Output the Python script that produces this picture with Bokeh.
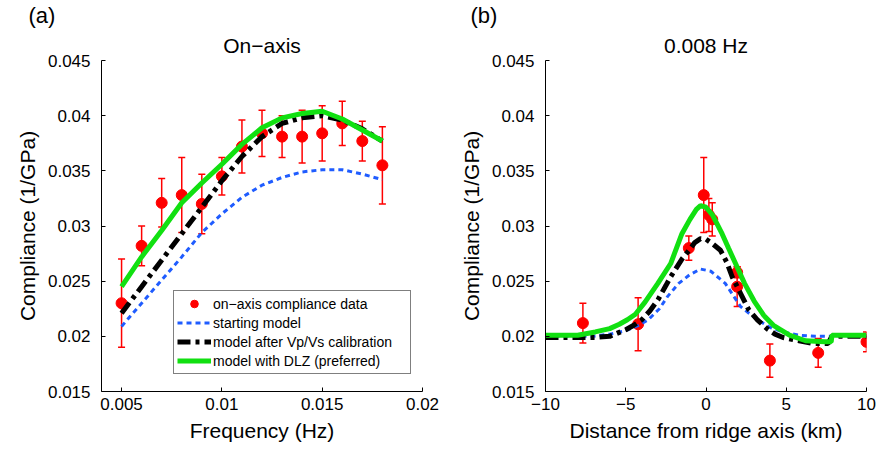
from bokeh.plotting import figure
from bokeh.models import Range1d, FixedTicker, Legend, LegendItem, Title
from bokeh.layouts import row
from bokeh.embed import file_html
from bokeh.resources import INLINE

FONT = "Liberation Sans"
RED = "#ff0000"
BLUE = "#1f5cff"
BLACK = "#000000"
GREEN = "#11e011"

# ---------------- panel (a): on-axis compliance vs frequency ----------------
freq = [0.005, 0.006, 0.007, 0.008, 0.009, 0.010, 0.011, 0.012, 0.013, 0.014, 0.015, 0.016, 0.017, 0.018]
comp_a = [0.0230, 0.0282, 0.0321, 0.0328, 0.0320, 0.0345, 0.0372, 0.0384, 0.0381, 0.0381, 0.0384, 0.0393, 0.0377, 0.0355]
err_a = [0.0040, 0.0018, 0.0022, 0.0034, 0.0027, 0.0017, 0.0024, 0.0021, 0.0019, 0.0024, 0.0025, 0.0020, 0.0018, 0.0035]
start_a = [0.0209, 0.0230, 0.0251, 0.0272, 0.0294, 0.0311, 0.0326, 0.0337, 0.0344, 0.0349, 0.0351, 0.0351, 0.0347, 0.0342]
vpvs_a = [0.0221, 0.0245, 0.0269, 0.0293, 0.0317, 0.0341, 0.0363, 0.0381, 0.0393, 0.0398, 0.0400, 0.0396, 0.0388, 0.0377]
dlz_a = [0.0245, 0.0272, 0.0296, 0.0321, 0.0339, 0.0356, 0.0374, 0.0389, 0.0398, 0.0402, 0.0404, 0.0397, 0.0387, 0.0377]

# ---------------- panel (b): compliance vs distance at 0.008 Hz ----------------
dist = [-7.67, -4.23, -1.07, -0.14, 0.18, 0.39, 1.94, 1.94, 3.98, 6.99, 10.0]
comp_b = [0.0212, 0.0211, 0.0280, 0.0328, 0.0310, 0.0306, 0.0258, 0.0245, 0.0178, 0.0185, 0.0195]
err_b = [0.0018, 0.0024, 0.0011, 0.0034, 0.0015, 0.0015, 0.0005, 0.0018, 0.0015, 0.0013, 0.0009]

start_b_x = [-10, -7, -6, -5, -4.2, -3.6, -2.9, -2.4, -1.7, -1.0, -0.34, 0.3, 1.2, 2.15, 3.2, 4.0, 4.8, 5.8, 6.8, 10]
start_b = [0.0200, 0.0200, 0.0202, 0.0205, 0.0210, 0.0215, 0.0225, 0.0236, 0.0248, 0.0256, 0.0261, 0.0259, 0.0248, 0.0227,
           0.0215, 0.0208, 0.0204, 0.0201, 0.0200, 0.0200]

vpvs_b_x = [-10, -7, -6, -5, -4.5, -4, -3.5, -3, -2.5, -2.2, -1.5, -1.0, -0.7, -0.34, 0.0, 0.4, 0.9, 1.3, 1.63, 2.15,
            2.67, 3.2, 3.8, 4.3, 4.8, 5.8, 6.7, 7.6, 7.85, 10]
vpvs_b = [0.0199, 0.0199, 0.0200, 0.0206, 0.0210, 0.0215, 0.0223, 0.0233, 0.0246, 0.0254, 0.0270, 0.0279, 0.0285, 0.02885,
          0.0288, 0.0284, 0.0278, 0.0267, 0.0254, 0.0239, 0.0224, 0.0215, 0.0207, 0.0202, 0.0199, 0.0196, 0.01935,
          0.01935, 0.0200, 0.0200]

dlz_b_x = [-10, -8, -6.9, -6, -5.4, -4.9, -4.4, -3.8, -3, -2.2, -1.5, -1.0, -0.6, -0.34, 0.0, 0.4, 1.0, 1.4, 1.84, 2.4,
           3.0, 3.6, 4.2, 5.2, 6.2, 7.4, 7.8, 7.85, 10]
dlz_b = [0.0201, 0.0201, 0.0204, 0.0207, 0.0211, 0.0215, 0.0220, 0.0231, 0.0248, 0.0266, 0.0293, 0.0306, 0.0315, 0.03185,
         0.0317, 0.0310, 0.0293, 0.0280, 0.0266, 0.0248, 0.0232, 0.0219, 0.0210, 0.0201, 0.0196, 0.0195, 0.0195, 0.0201,
         0.0201]

y_ticks = [0.015, 0.02, 0.025, 0.03, 0.035, 0.04, 0.045]
y_tick_labels = ["0.015", "0.02", "0.025", "0.03", "0.035", "0.04", "0.045"]
xa_ticks = [0.005, 0.01, 0.015, 0.02]
xa_tick_labels = ["0.005", "0.01", "0.015", "0.02"]
xb_ticks = [-10, -5, 0, 5, 10]
xb_tick_labels = ["\u221210", "\u22125", "0", "5", "10"]

legend_labels = ["on\u2212axis compliance data", "starting model",
                 "model after Vp/Vs calibration", "model with DLZ (preferred)"]


def make_fig(width, xr, min_left, min_right, xticks, xlabels, xlabel, letter, letter_dx, title):
    p = figure(width=width, height=448, x_range=xr, y_range=Range1d(0.015, 0.045),
               output_backend="svg", toolbar_location=None, title=None,
               min_border_left=min_left, min_border_right=min_right,
               min_border_top=59, min_border_bottom=57)
    p.grid.visible = False
    p.outline_line_color = None
    p.background_fill_color = "white"
    p.border_fill_color = "white"
    for ax in (p.xaxis[0], p.yaxis[0]):
        ax.major_tick_in = 4
        ax.major_tick_out = 0
        ax.minor_tick_line_color = None
        ax.axis_line_color = "black"
        ax.major_tick_line_color = "black"
        ax.major_label_text_font = FONT
        ax.major_label_text_font_size = "17px"
        ax.major_label_text_color = "black"
        ax.axis_label_text_font = FONT
        ax.axis_label_text_font_size = "21px"
        ax.axis_label_text_font_style = "normal"
        ax.axis_label_text_color = "black"
    p.yaxis.ticker = FixedTicker(ticks=y_ticks)
    p.yaxis.major_label_overrides = dict(zip(y_ticks, y_tick_labels))
    p.xaxis.ticker = FixedTicker(ticks=xticks)
    p.xaxis.major_label_overrides = dict(zip(xticks, xlabels))
    p.yaxis.major_label_standoff = 11
    p.xaxis.major_label_standoff = 6
    p.yaxis.axis_label = "Compliance (1/GPa)"
    p.yaxis.axis_label_standoff = 6
    p.xaxis.axis_label = xlabel
    p.xaxis.axis_label_standoff = 6
    # first "above" title sits next to the frame, the second one above it
    p.add_layout(Title(text=title, align="center", standoff=8,
                       text_font=FONT, text_font_size="21px", text_font_style="normal",
                       text_color="black"), "above")
    p.add_layout(Title(text=letter, align="left", offset=letter_dx, standoff=0,
                       text_font=FONT, text_font_size="22px", text_font_style="normal",
                       text_color="black"), "above")
    return p


def add_data(p, x, y, e):
    lo = [a - b for a, b in zip(y, e)]
    hi = [a + b for a, b in zip(y, e)]
    p.segment(x0=x, y0=lo, x1=x, y1=hi, line_color=RED, line_width=1.5)
    p.scatter(x, hi, marker="dash", size=7, line_color=RED, line_width=1.5)
    p.scatter(x, lo, marker="dash", size=7, line_color=RED, line_width=1.5)
    return p.scatter(x, y, marker="circle", size=11, fill_color=RED, line_color=RED)


def add_models(p, xs, ys, xv, yv, xd, yd):
    r1 = p.line(xs, ys, line_color=BLUE, line_width=3, line_dash="5 4")
    r2 = p.line(xv, yv, line_color=BLACK, line_width=5, line_dash="13 5 4 5")
    r3 = p.line(xd, yd, line_color=GREEN, line_width=5)
    return r1, r2, r3


# panel (a)
pa = make_fig(448, Range1d(0.004, 0.02), 101, 26, xa_ticks, xa_tick_labels, "Frequency (Hz)",
              "(a)", -73, "On\u2212axis")
pts_a = add_data(pa, freq, comp_a, err_a)
ra1, ra2, ra3 = add_models(pa, freq, start_a, freq, vpvs_a, freq, dlz_a)

legend = Legend(items=[LegendItem(label=legend_labels[0], renderers=[pts_a]),
                       LegendItem(label=legend_labels[1], renderers=[ra1]),
                       LegendItem(label=legend_labels[2], renderers=[ra2]),
                       LegendItem(label=legend_labels[3], renderers=[ra3])],
                location=(72, 17), margin=0, padding=3, spacing=0,
                glyph_width=34, glyph_height=19, label_height=19, label_width=194, label_standoff=2,
                label_text_font=FONT, label_text_font_size="14px", label_text_color="black",
                border_line_color="black", border_line_width=1,
                background_fill_color="white", background_fill_alpha=1.0)
pa.add_layout(legend)

# panel (b)
pb = make_fig(435, Range1d(-10, 10), 97, 17, xb_ticks, xb_tick_labels, "Distance from ridge axis (km)",
              "(b)", -75, "0.008 Hz")
add_data(pb, dist, comp_b, err_b)
add_models(pb, start_b_x, start_b, vpvs_b_x, vpvs_b, dlz_b_x, dlz_b)

layout = row(pa, pb)
open("out.html", "w").write(file_html(layout, INLINE))
